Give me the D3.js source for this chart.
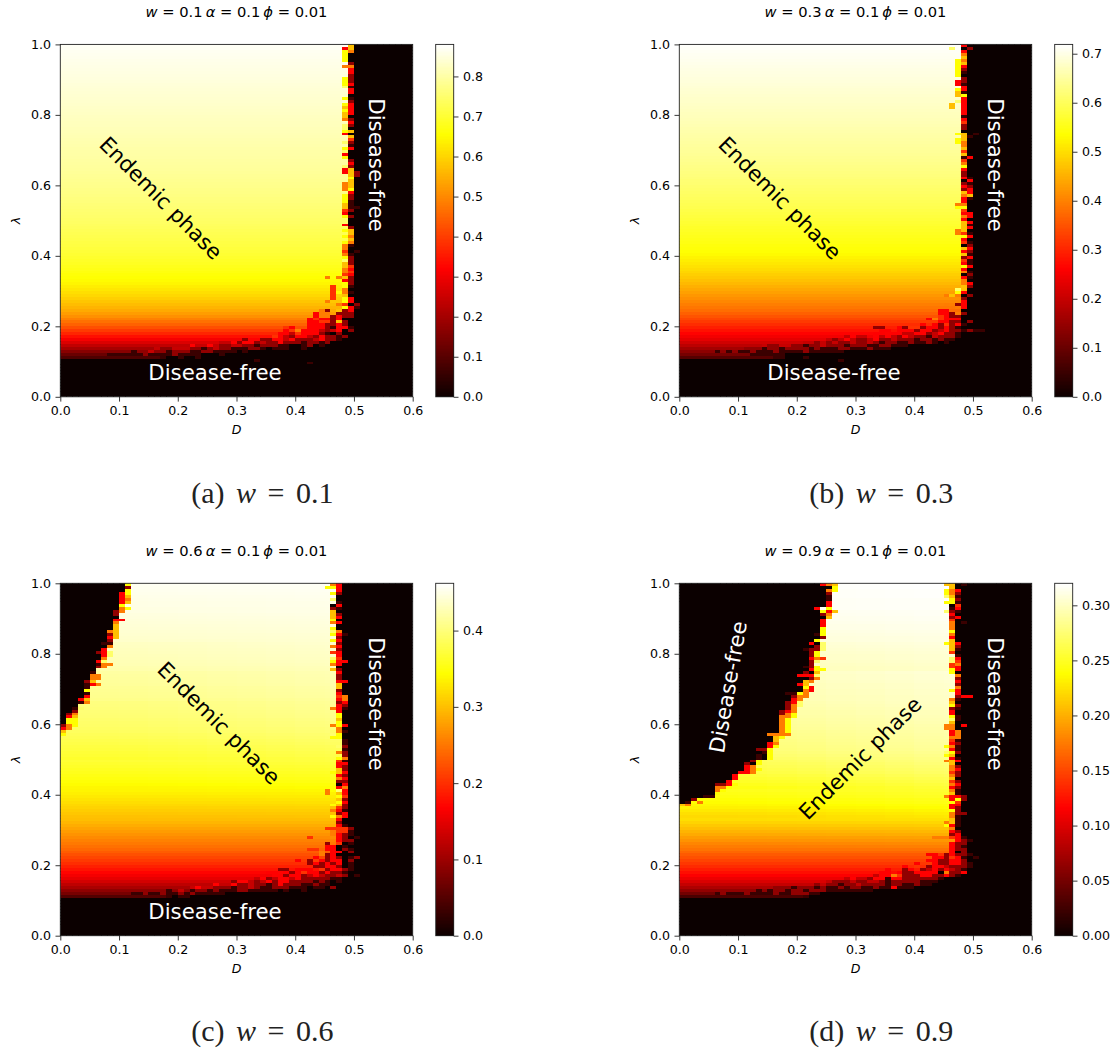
<!DOCTYPE html>
<html><head><meta charset="utf-8">
<script src="https://cdnjs.cloudflare.com/ajax/libs/d3/7.8.5/d3.min.js"></script>
<style>html,body{margin:0;padding:0;background:#fff}svg{display:block}text{font-family:"DejaVu Sans"}</style>
</head><body><div id="c"></div>
<script>
const xTicks=[0,0.1,0.2,0.3,0.4,0.5,0.6];
const yTicks=[0,0.2,0.4,0.6,0.8,1];
const omegas=["0.1","0.3","0.6","0.9"];
const vmax_a=0.88,vmax_b=0.719,vmax_c=0.462,vmax_d=0.32;
const cbTicks_a=[0,.1,.2,.3,.4,.5,.6,.7,.8];
const cbTicks_b=[0,.1,.2,.3,.4,.5,.6,.7];
const cbTicks_c=[0,.1,.2,.3,.4];
const cbTicks_d=[0,.05,.1,.15,.2,.25,.3];
// level letters used for the noisy cells on the phase boundary (fraction of colour range)
const levelChars=".kdmreogypw";
const levelFracs=[0,.07,.2,.28,.365,.44,.55,.65,.746,.85,.95];
// bulk value per lattice row, from lambda=1 downward
const plateau_a=[.872,.870,.868,.866,.864,.862,.860,.858,.856,.855,.853,.851,.849,.847,.845,.843,.841,.840,.838,.836,.834,.832,.830,.828,.826,.824,.822,.821,.819,.817,.815,.813,.811,.809,.807,.805,.803,.802,.800,.798,.796,.794,.792,.790,.787,.785,.783,.780,.778,.775,.773,.770,.767,.764,.761,.758,.755,.752,.749,.746,.743,.740,.736,.732,.728,.725,.721,.717,.714,.710,.706,.701,.696,.691,.686,.680,.675,.669,.663,.658,.652,.644,.634,.625,.615,.605,.594,.582,.570,.558,.545,.528,.510,.490,.470,.450,.425,.398,.370,.340,.310,.275,.240,.205,.165,.125,.090];
const plateau_b=[.716,.714,.712,.710,.708,.706,.704,.702,.700,.698,.697,.695,.693,.691,.689,.687,.685,.683,.681,.680,.678,.676,.674,.672,.670,.668,.666,.664,.661,.659,.657,.655,.653,.651,.649,.647,.645,.643,.640,.638,.635,.632,.630,.627,.625,.622,.619,.617,.614,.611,.608,.605,.602,.598,.595,.592,.588,.584,.581,.577,.573,.570,.566,.563,.559,.556,.552,.549,.545,.542,.538,.532,.525,.518,.512,.505,.499,.492,.485,.478,.470,.461,.452,.443,.434,.425,.416,.407,.398,.389,.380,.366,.352,.338,.324,.310,.295,.280,.265,.250,.235,.212,.190,.165,.140,.115,.080];
const plateau_c=[.458,.457,.456,.455,.454,.453,.452,.452,.451,.451,.450,.449,.448,.447,.446,.445,.444,.443,.442,.441,.440,.439,.438,.437,.436,.435,.434,.433,.431,.430,.428,.427,.426,.425,.424,.422,.421,.420,.419,.417,.415,.414,.413,.411,.410,.409,.407,.405,.404,.402,.400,.397,.395,.392,.390,.387,.385,.382,.380,.377,.375,.372,.369,.366,.363,.360,.357,.353,.349,.345,.340,.336,.332,.328,.324,.320,.316,.312,.308,.304,.300,.294,.288,.282,.276,.270,.264,.258,.252,.246,.240,.232,.224,.216,.208,.200,.190,.181,.171,.162,.152,.138,.124,.110,.092,.075,.050];
const plateau_d=[.320,.320,.319,.319,.319,.318,.318,.318,.318,.317,.317,.316,.316,.315,.314,.314,.313,.312,.311,.311,.310,.309,.308,.307,.306,.306,.305,.304,.303,.303,.308,.307,.307,.306,.305,.305,.304,.304,.303,.303,.303,.302,.301,.300,.300,.299,.298,.297,.296,.295,.295,.294,.293,.292,.291,.290,.289,.287,.285,.283,.281,.279,.277,.275,.273,.270,.267,.264,.261,.258,.255,.253,.251,.248,.246,.243,.240,.236,.232,.229,.225,.220,.215,.210,.205,.200,.194,.189,.183,.178,.172,.166,.160,.155,.149,.143,.137,.130,.123,.116,.108,.099,.089,.078,.065,.050,.030];
// how much lower the bulk is near D=0 than near the right boundary (per 10 rows), and how that fades per 5 columns
const drop_a=[0,0,0,0,0,0,0,0,0,0,0,0];
const drop_b=[0,0,0,0,0,0,0,0,0,0,0,0];
const drop_c=[.002,.003,.006,.009,.012,.012,.006,.002,0,0,0,0];
const drop_d=[.002,.003,.005,.008,.010,.013,.014,.008,.002,0,0,0];
const fade=[1,1,.95,.85,.75,.6,.5,.35,.2,.1,0,0,0];
// noisy cells at the right boundary, per row: "startColumn:levels"; black after them
const right_a=("48:_g 48:rg 48:yo 48:y. 48:y. 48:y. 48:_d 48:oo 48:_r 48:_r 48:_d 48:yd 48:yd 48:yr 48:pk 48:_r 48:_r 48:_. 48:yk 48:_d 48:yr 48:gr 48:yr 48:gr 48:g. 48:od 48:_r 48:pd 48:p. 48:yg 48:r. 48:_g 48:_e 48:pd 48:_k 48:yr 48:p. 48:r. 48:y. 48:_d 48:_r 48:pd 48:rg 48:rgd 48:_gd 48:_y 48:_g 48:og 48:og 48:oy 48:_r 48:yd 48:yd 48:yk 48:gk 48:gkk 48:ed 48:r. 48:yd 48:p. 48:p. 48:r. 48:_d 48:yg 48:_g 48:yo 48:_g 48:yo 48:ok 48:o. 48:e.k 48:ok 48:yd 48:pd 48:gd 48:ge 48:or "+
"48:oe 48:er 45:o_ogd 48:rd 48:yd 46:e_yk 46:e_o. 46:eyok 46:e_g. 46:e_yr 45:o__yr. 47:oe.d 47:_yrk 44:od_gdr 43:roo_ddd 43:roodrdd 42:rerrdr. 42:rreedgd. 41:_rrrddrd 38:er__rrrdkrrk 38:reorrrmdmr.d 37:rrmerrrdk.d 36:ermdrrmdrddkd 31:drrddrrmrdddmrddk 27:mmrdrrdmddrdddkddkd. 22:rmmrmddmmddkdddkk..kd.k 16:mddmmmddkdmddkkkddk.kkk..k 12:kddmddkdddkkddkkkk.k 8:kkkkkkdkkkkdkkkk...k 17:k..k..k 33:k 42:k").split(" ");
const right_b=("47:_r 46:p_.d 47:_r 47:_o 47:_g 47:yo 47:yg 47:yr 47:yd 47:yk 47:y. 47:_d 47:rd 47:rk 47:_r 47:yr 47:gk 47:gy 47:_r 47:pr 46:g_r 46:g_r 47:_r 47:_r 47:_k 47:_r 47:_e 47:_d 47:_d 47:_. 47:yg.k 47:_gk 47:yg 47:yo 47:_o 47:_g 47:_e 47:_g 47:_kr 47:_e 47:_o 47:_y 47:_r 47:_d 47:_d 47:_rk 47:_.r 47:_dk 47:_rd 47:_dr 47:_gr 47:_og 47:_rk 47:_r 47:oo 47:yy 47:_e 47:_rr 47:_or 47:_r. 47:_gr 47:_gk 47:_gr 47:og 47:oek 47:_yr 47:_r. 47:_ek 47:_.d 47:_gr 47:_rd 47:_gk 47:_dr 47:_ek 47:_rk 47:_yr 47:_r 47:_ok 47:_.d 47:_rk 47:_o 47:_or 47:_gd 47:pg 47:yr "+
"45:ogo.d 47:_d 47:_r 45:o_dr. 47:or 44:rr__. 44:rrdod 44:erdd. 42:roerrr. 43:_rrdd.d 41:r_rd_drk 33:dd__rdeedrrdrdk 34:rr_rrrdrrdmrddkdkk 33:rr_rrmmrrdmrddk 28:mrmm_rmrmdrmddkmdddk 25:mdmrmddmrddmdddkddkdkk 21:mmdmdmddmddmdkddkkdkkdk.k 14:mddmmddkddmdddkdddkkddkkk 11:dddkddkddddkdkkkddkkkdkkk 6:kdkdkkdkkkdkkkkdkkkkkk 12:kkkkkk 16:kk...k 27:k").split(" ");
const right_c=("46:or 45:yyr 46:_r 46:yd 46:_. 46:p. 46:_k 46:.r 46:dk 46:g. 46:gd 46:gr 46:y. 46:or 46:_. 46:y. 46:po 46:yrk 46:_d 46:yr 46:_d 46:or 46:_d 46:er 46:_r 46:pe 46:yrr 46:or 46:_. 46:gd 46:_r 46:_d 46:_d 46:_rr 46:_g 46:_g 46:_d 46:_r 46:_eo 46:_ro 46:_dr 46:_rd 46:ork 46:_r 46:_y 46:_y 46:_g 46:_y 46:oyr 46:_o. 46:pok 46:_y 46:yy 46:__k 46:__k 46:_pd 46:__k 46:_od 46:__d 46:_yo 46:_ek 46:_rr 46:_rd 46:_gd 46:ygr 46:_rd 46:_or 46:_dd 46:_.r 46:_ro 45:oypr 45:o_gr 46:_ye 46:_gd 46:_yr 46:ygd 46:ged 46:ork 46:gdr 46:yor 46:_r 46:_d 46:_rk 45:eeeed "+
"46:oeek 46:ordk 42:e____rd.k 47:rdd 45:d_e.k 45:rr.k 42:ee_rr.dk 44:o_rr.d 44:odr. 43:r_drd.kd 40:r_d_rdrr.d 41:_drdrdr.k 43:ddrrd.k 37:dd_rrr_edrrdk 35:rr_rdrerrdrddk. 36:rrdrrdmrmddmd.k 33:mrdmrrmrdddddkk 29:drrmdmrdrrddddkdk.k 26:rmmrddmddkdrdddkkdkk.. 22:mrmmdddkddmdkkdddkkk.kk.d 17:dkdmdkddkdkkkddkkkkk.k..k 12:kkdkkdkkdkdkkkkk 18:k.kk").split(" ");
const right_d=("45:gg.k 46:g 45:yor 45:yod 45:pgk 46:yd 45:yyk 46:.e 46:kr 45:pdk 46:r 46:dr 46:e. 46:o.k 46:o 46:o 46:y 46:o 46:r 46:g 45:ygr 46:gd 46:gk 46:e. 46:_k 46:pr 46:pe 46:eo 46:er 46:yr 46:y. 46:_o 46:_d 46:_r 46:_d 46:_o 46:yr 46:_r 46:_drr 46:ok 46:g. 46:yd 46:dk 46:r 46:r. 46:yk 46:pk 46:g. 45:oo.r 45:oo. 46:ro 46:ro 46:oo 46:ek 46:rd 45:yok 46:rk 45:pyd 45:yg. 46:rk 45:ogr 46:g. 46:od 46:or 46:ed 46:od 46:g. 46:ed 46:or 46:rd 46:ok 46:gk 45:orrd 46:ryd 46:ye 46:rr 46:rd 46:yd 46:odd 46:ok 46:gk 45:ogk 45:yrk 46:o. 46:rd 46:dr "+
"43:oooerk 46:_rdk 46:rdd 46:rdk 45:_rdd 46:r.d 42:rredrddk 43:rrderk.k 41:_rrddrrd 40:r__rddrrdk 38:r_e_drrmdddk 35:r__dr_dmrdrmdk 34:rr_rddrrrr.oddr 33:mrroedddrrddrdk 28:mrmmdrrkrrddddddk 25:mdddmddmmdkdddddkkk 21:mmdmddkddmddddkddkkdkk.. 16:dddkdddkdkkdkddkkdkkrkkk 12:dkdkddkddkdddkkkkkkkk 6:kdkkkdkkkkdkkdddkk 21:k").split(" ");
// noisy cells at the left boundary: black before them
const left_a=[],left_b=[];
const left_c="11:y 11:d 11:y 10:ry 10:rg 10:ro 10:rg 10:y_ 10:oy 9:do 9:d_ 9:._ 9:rr 9:o 9:g 9:g 8:og 8:dg 8:rg 8:d 7:kk 8:o 7:r 6:drp 7:rp 7:o 6:rp 6:koo 6:do 6:_ 5:k 5:oo 5:oo 4:dg 4:kro 4:k 4:y 4:k 4:r 3:rg 3:ko 3:_ 2:kp 2:d 1:do 1:rg 1:yy 1:yy 0:doy 0:ro 0:g 0:y".split(" ");
const left_d="24:rog 26:y 25:oy 25:d 25:k 25:k 25:r 25:r 23:r_y 24:yrg 24:do 24:.g 24:r 24:r 24:r 24:y 24:y 23:ky 24:d 23:y_ 22:r.p 22:.dp 21:kddp 22:dy 22:dy 22:roe 22:dp 22:d_ 21:kdy 21:.ryy 21:d.g 20:rrrp 21:.do 21:go 20:rg 20:.yr 20:.or 18:kkyo 19:doo 19:ro 18:drp 18:dop 18:do 17:dro 17:doy 17:ooy 17:oy 17:oy 17:oy 17:oy 17:oy 15:oooo 16:gy 16:g 15:ro 15:ry 13:ddy 14:ky 13:k.y 13:k.y 12:dy 11:d.y 11:ro 11:roy 10:rro 9:r 9:r_ 8:r 6:ddry 6:ooy 6:oy 6:y 4:kk 2:d 1:k_o 0:go".split(" ");

const W=1117,H=1053,S=352.4;
const hot=d3.scaleLinear().domain([0,.365,.746,1]).range(["#0b0000","#ff0000","#ffff00","#ffffff"]).clamp(true);
const panels=[
 {id:"a",w:"0.1",cap:"(a)",x:60.3,y:44.4,vmax:vmax_a,cb:cbTicks_a,fmt:".1f",pl:plateau_a,dr:drop_a,ri:right_a,le:left_a,capY:503,
  notes:[["Disease-free",215,372,0],["Disease-free",376,165,90],["Endemic phase",161,198,45]]},
 {id:"b",w:"0.3",cap:"(b)",x:679.3,y:44.4,vmax:vmax_b,cb:cbTicks_b,fmt:".1f",pl:plateau_b,dr:drop_b,ri:right_b,le:left_b,capY:503,
  notes:[["Disease-free",834,372,0],["Disease-free",995,165,90],["Endemic phase",780,198,45]]},
 {id:"c",w:"0.6",cap:"(c)",x:60.3,y:583.3,vmax:vmax_c,cb:cbTicks_c,fmt:".1f",pl:plateau_c,dr:drop_c,ri:right_c,le:left_c,capY:1041,
  notes:[["Disease-free",215,911,0],["Disease-free",376,704,90],["Endemic phase",219,723,45]]},
 {id:"d",w:"0.9",cap:"(d)",x:679.3,y:583.3,vmax:vmax_d,cb:cbTicks_d,fmt:".2f",pl:plateau_d,dr:drop_d,ri:right_d,le:left_d,capY:1041,
  notes:[["Disease-free",995,704,90],["Disease-free",728,687,-80],["Endemic phase",860,758,-45]]}
];
const NC=60,NR=120;
function parseEdge(s){if(!s)return null;const [a,b]=s.split(":");return {col:+a,lv:b||""};}
function cellValue(p,r,c){
  const base=r<p.pl.length?p.pl[r]-p.dr[Math.floor(r/10)]*fade[Math.floor(c/5)]:0;
  const lev=ch=>ch==="_"?base:levelFracs[levelChars.indexOf(ch)]*p.vmax;
  const L=parseEdge(p.le[r]);
  if(L){ if(c<L.col)return 0; if(c-L.col<L.lv.length)return lev(L.lv[c-L.col]); }
  const R=parseEdge(p.ri[r]);
  if(!R)return 0;
  if(c<R.col)return base;
  if(c-R.col<R.lv.length)return lev(R.lv[c-R.col]);
  return 0;
}
const svg=d3.select("#c").append("svg").attr("width",W).attr("height",H).attr("viewBox",`0 0 ${W} ${H}`);
const defs=svg.append("defs");
panels.forEach(p=>{
  const g=svg.append("g").attr("class","panel-"+p.id);
  const x=d3.scaleLinear().domain([0,.6]).range([p.x,p.x+S]);
  const y=d3.scaleLinear().domain([0,1]).range([p.y+S,p.y]);
  const col=d3.scaleBand().domain(d3.range(NC)).range([p.x,p.x+S]);
  const row=d3.scaleBand().domain(d3.range(NR)).range([p.y,p.y+S]);
  defs.append("clipPath").attr("id","clip-"+p.id).append("rect").attr("x",p.x).attr("y",p.y).attr("width",S).attr("height",S);
  const cells=[];
  for(let r=0;r<NR;r++)for(let c=0;c<NC;c++)cells.push({r,c,v:cellValue(p,r,c)});
  g.append("g").attr("clip-path",`url(#clip-${p.id})`).attr("shape-rendering","crispEdges").selectAll("rect").data(cells).join("rect")
    .attr("x",d=>col(d.c)).attr("y",d=>row(d.r))
    .attr("width",col.bandwidth()+.6).attr("height",row.bandwidth()+.6)
    .attr("fill",d=>hot(d.v/p.vmax));
  // notes
  p.notes.forEach(n=>{
    g.append("text").attr("transform",`translate(${n[1]},${n[2]}) rotate(${n[3]})`)
     .attr("text-anchor","middle").attr("dominant-baseline","central").attr("font-size",21.3)
     .attr("fill",n[0]==="Endemic phase"?"#000":"#fff").text(n[0]);
  });
  // frame and axes
  g.append("rect").attr("x",p.x).attr("y",p.y).attr("width",S).attr("height",S).attr("fill","none").attr("stroke","#222").attr("stroke-width",.9);
  const ax=g.append("g").attr("transform",`translate(0,${p.y+S})`).call(d3.axisBottom(x).tickValues(xTicks).tickFormat(d3.format(".1f")).tickSize(4.8).tickPadding(4.5));
  const ay=g.append("g").attr("transform",`translate(${p.x},0)`).call(d3.axisLeft(y).tickValues(yTicks).tickFormat(d3.format(".1f")).tickSize(4.8).tickPadding(4.5));
  [ax,ay].forEach(a=>{a.select(".domain").remove();a.selectAll("text").attr("font-size",12.6).attr("font-family","DejaVu Sans").attr("fill","#000");a.selectAll("line").attr("stroke","#222").attr("stroke-width",.9);});
  g.append("text").attr("x",p.x+S/2).attr("y",p.y+S+37).attr("text-anchor","middle").attr("font-size",12.6).attr("font-style","italic").text("D");
  g.append("text").attr("transform",`translate(${p.x-40},${p.y+S/2}) rotate(-90)`).attr("text-anchor","middle").attr("font-size",12.6).attr("font-style","italic").text("λ");
  // title
  const t=g.append("text").attr("x",p.x+S/2).attr("y",p.y-27.5).attr("text-anchor","middle").attr("font-size",14.7);
  [["w",1,0],[" = "+p.w,0,0],["α",1,3],[" = 0.1",0,0],["ϕ",1,3],[" = 0.01",0,0]].forEach(s=>t.append("tspan").attr("dx",s[2]).attr("font-style",s[1]?"italic":"normal").text(s[0]));
  // colour bar
  const cx=p.x+375.4,cw=18;
  const cy=d3.scaleLinear().domain([0,p.vmax]).range([p.y+S,p.y]);
  const steps=d3.range(256);
  const bh=S/256;
  g.append("g").attr("shape-rendering","crispEdges").selectAll("rect").data(steps).join("rect")
    .attr("x",cx).attr("width",cw).attr("y",i=>p.y+S-(i+1)*bh).attr("height",bh+.6)
    .attr("fill",i=>hot((i+.5)/256));
  g.append("rect").attr("x",cx).attr("y",p.y).attr("width",cw).attr("height",S).attr("fill","none").attr("stroke","#222").attr("stroke-width",.9);
  const ac=g.append("g").attr("transform",`translate(${cx+cw},0)`).call(d3.axisRight(cy).tickValues(p.cb).tickFormat(d3.format(p.fmt)).tickSize(4.8).tickPadding(4.5));
  ac.select(".domain").remove();ac.selectAll("text").attr("font-size",12.6).attr("font-family","DejaVu Sans").attr("fill","#000");ac.selectAll("line").attr("stroke","#222").attr("stroke-width",.9);
  // caption
  const c=g.append("text").attr("x",p.x+202).attr("y",p.capY).attr("text-anchor","middle").attr("font-size",30).attr("fill","#222").style("font-family","'Liberation Serif'").style("word-spacing","4px");
  c.append("tspan").text(p.cap+" ");
  c.append("tspan").attr("font-style","italic").text("w");
  c.append("tspan").text(" = "+p.w);
});
</script></body></html>
